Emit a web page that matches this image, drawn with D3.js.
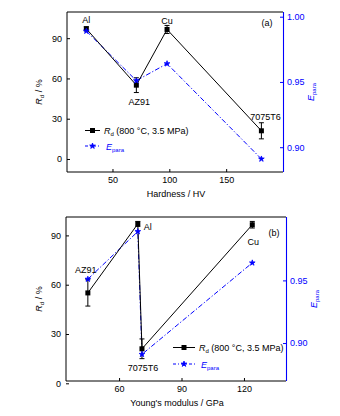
<!DOCTYPE html>
<html>
<head>
<meta charset="utf-8">
<script src="https://cdn.jsdelivr.net/npm/d3@7"></script>
<style>
  html, body { margin: 0; padding: 0; background: #fff; }
  svg { display: block; font-family: "Liberation Sans", Arial, sans-serif; }
</style>
</head>
<body>
<svg id="chart" width="340" height="416"></svg>
<script>
// Materials and measured quantities
const materials = ["Al", "AZ91", "Cu", "7075T6"];
const hardness = [27, 71, 98, 181];          // HV
const youngsModulus = [69, 45, 124, 71];     // GPa
const rd = [97, 55, 96.5, 21];               // R_d (800 °C, 3.5 MPa), %
const rdErrHardness = [1.5, 5.5, 3, 6];      // error bars, panel (a)
const rdErrModulus = [1.5, 8, 2, 6];         // error bars, panel (b)
const ePara = [0.989, 0.951, 0.964, 0.891];

const leftTicks = [0, 30, 60, 90];
const rightTicksA = [0.90, 0.95, 1.00];
const rightTicksB = [0.90, 0.95];
const hardnessTicks = [50, 100, 150];
const modulusTicks = [60, 90, 120];

const svg = d3.select("#chart");
const BLUE = "#0000ff";

function drawPanel(cfg) {
  const { x0, x1, y0, y1 } = cfg;
  const g = svg.append("g");
  const x = d3.scaleLinear().domain(cfg.xDomain).range([x0, x1]);
  const yL = d3.scaleLinear().domain(cfg.yDomain).range([y1, y0]);
  const yR = d3.scaleLinear().domain(cfg.eDomain).range([y1, y0]);

  // frame
  g.append("path")
    .attr("d", `M${x1},${y0}H${x0}V${y1}H${x1}`)
    .attr("fill", "none").attr("stroke", "#000").attr("stroke-width", 1);

  // axes
  const ax = g.append("g").attr("transform", `translate(0,${y1})`)
    .call(d3.axisBottom(x).tickValues(cfg.xTicks).tickSize(-3).tickPadding(5));
  const ay = g.append("g").attr("transform", `translate(${x0},0)`)
    .call(d3.axisLeft(yL).tickValues(leftTicks).tickSize(-3).tickPadding(5));
  const ar = g.append("g").attr("transform", `translate(${x1},0)`)
    .call(d3.axisRight(yR).tickValues(cfg.eTicks).tickFormat(d3.format(".2f")).tickSize(-3).tickPadding(4));
  [ax, ay].forEach(a => {
    a.select(".domain").remove();
    a.selectAll("line").attr("stroke", "#000").attr("stroke-width", 1);
    a.selectAll("text").attr("font-size", 9).attr("fill", "#000").attr("font-family", null);
  });
  ar.select(".domain").attr("stroke", BLUE).attr("stroke-width", 1.1)
    .attr("d", `M0.5,${y0}V${y1}`);
  ar.selectAll("line").attr("stroke", BLUE);
  ar.selectAll("text").attr("font-size", 9).attr("fill", BLUE).attr("font-family", null);

  // sort points along x
  const order = d3.range(materials.length).sort((a, b) => cfg.xVals[a] - cfg.xVals[b]);

  // E_para series (dash-dot blue)
  const lineE = d3.line().x(i => x(cfg.xVals[i])).y(i => yR(ePara[i]));
  g.append("path").attr("d", lineE(order)).attr("fill", "none")
    .attr("stroke", BLUE).attr("stroke-width", 1).attr("stroke-dasharray", "5,2,1.2,2");

  // R_d series (solid black)
  const lineR = d3.line().x(i => x(cfg.xVals[i])).y(i => yL(rd[i]));
  g.append("path").attr("d", lineR(order)).attr("fill", "none")
    .attr("stroke", "#000").attr("stroke-width", 1);

  // error bars
  order.forEach(i => {
    const cx = x(cfg.xVals[i]);
    const t = yL(rd[i] + cfg.err[i]), b = yL(rd[i] - cfg.err[i]);
    g.append("path").attr("d", `M${cx},${t}V${b}M${cx - 2.5},${t}H${cx + 2.5}M${cx - 2.5},${b}H${cx + 2.5}`)
      .attr("stroke", "#000").attr("stroke-width", 1).attr("fill", "none");
  });

  // markers
  order.forEach(i => {
    g.append("rect")
      .attr("x", x(cfg.xVals[i]) - 2.5).attr("y", yL(rd[i]) - 2.5)
      .attr("width", 5).attr("height", 5).attr("fill", "#000");
  });
  const star = d3.symbol().type(d3.symbolStar).size(10);
  order.forEach(i => {
    g.append("path").attr("d", star())
      .attr("transform", `translate(${x(cfg.xVals[i])},${yR(ePara[i])})`)
      .attr("fill", BLUE).attr("stroke", BLUE).attr("stroke-width", 0.8);
  });

  // point labels
  cfg.labels.forEach(l => {
    const i = materials.indexOf(l.name);
    g.append("text").text(l.name)
      .attr("x", x(cfg.xVals[i]) + l.dx).attr("y", yL(rd[i]) + l.dy)
      .attr("text-anchor", l.anchor || "middle").attr("font-size", 9).attr("fill", "#000");
  });

  // panel tag
  g.append("text").text(cfg.tag).attr("x", cfg.tagX).attr("y", cfg.tagY)
    .attr("font-size", 9).attr("text-anchor", "middle");

  // legend
  const L = cfg.legend;
  g.append("line").attr("x1", L.x).attr("x2", L.x + L.w).attr("y1", L.y).attr("y2", L.y)
    .attr("stroke", "#000");
  g.append("rect").attr("x", L.x + L.w / 2 - 2.5).attr("y", L.y - 2.5).attr("width", 5).attr("height", 5);
  const t1 = g.append("text").attr("x", L.x + L.w + 4).attr("y", L.y + 3.5).attr("font-size", 9);
  t1.append("tspan").text("R").attr("font-style", "italic");
  t1.append("tspan").text("d").attr("font-size", 6).attr("dy", 2);
  t1.append("tspan").text(" (800 °C, 3.5 MPa)").attr("dy", -2);

  const ly2 = L.y + L.gap;
  g.append("line").attr("x1", L.x).attr("x2", L.x + L.w).attr("y1", ly2).attr("y2", ly2)
    .attr("stroke", BLUE).attr("stroke-dasharray", "3,2,1,2");
  g.append("path").attr("d", star()).attr("transform", `translate(${L.x + L.w / 2},${ly2})`)
    .attr("fill", BLUE).attr("stroke", BLUE).attr("stroke-width", 0.8);
  const t2 = g.append("text").attr("x", L.x + L.w + 6).attr("y", ly2 + 3.5).attr("font-size", 9).attr("fill", BLUE);
  t2.append("tspan").text("E").attr("font-style", "italic");
  t2.append("tspan").text("para").attr("font-size", 6).attr("dy", 2);

  // axis titles
  g.append("text").text(cfg.xTitle).attr("x", (x0 + x1) / 2 + 1).attr("y", y1 + 25)
    .attr("text-anchor", "middle").attr("font-size", 9);
  const tl = g.append("text").attr("transform", `translate(42,${(y0 + y1) / 2}) rotate(-90)`)
    .attr("text-anchor", "middle").attr("font-size", 9);
  tl.append("tspan").text("R").attr("font-style", "italic");
  tl.append("tspan").text("d").attr("font-size", 6).attr("dy", 2);
  tl.append("tspan").text(" / %").attr("dy", -2);
  const tr = g.append("text").attr("transform", `translate(${x1 + 31},${(y0 + y1) / 2}) rotate(-90)`)
    .attr("text-anchor", "middle").attr("font-size", 9).attr("fill", BLUE);
  tr.append("tspan").text("E").attr("font-style", "italic");
  tr.append("tspan").text("para").attr("font-size", 6).attr("dy", 2);
}

drawPanel({
  x0: 67, x1: 283, y0: 12, y1: 172,
  xDomain: [10, 200], yDomain: [-9.7, 109.5], eDomain: [0.881, 1.0036],
  xTicks: hardnessTicks, eTicks: rightTicksA,
  xVals: hardness, err: rdErrHardness,
  labels: [
    { name: "Al", dx: 0, dy: -6 },
    { name: "AZ91", dx: 3, dy: 20 },
    { name: "Cu", dx: 0, dy: -5 },
    { name: "7075T6", dx: 4, dy: -11 }
  ],
  tag: "(a)", tagX: 267, tagY: 25.5,
  legend: { x: 85, y: 130.5, w: 15, gap: 15.5 },
  xTitle: "Hardness / HV"
});

drawPanel({
  x0: 66, x1: 286, y0: 217, y1: 381,
  xDomain: [34.5, 140.2], yDomain: [1.4, 101.2], eDomain: [0.8697, 1.0006],
  xTicks: modulusTicks, eTicks: rightTicksB,
  xVals: youngsModulus, err: rdErrModulus,
  labels: [
    { name: "AZ91", dx: -2, dy: -20 },
    { name: "Al", dx: 6, dy: 6, anchor: "start" },
    { name: "7075T6", dx: 1, dy: 22 },
    { name: "Cu", dx: 1, dy: 20 }
  ],
  tag: "(b)", tagX: 274, tagY: 235.5,
  legend: { x: 173, y: 347.5, w: 22, gap: 16.5 },
  xTitle: "Young's modulus / GPa"
});
</script>
</body>
</html>
